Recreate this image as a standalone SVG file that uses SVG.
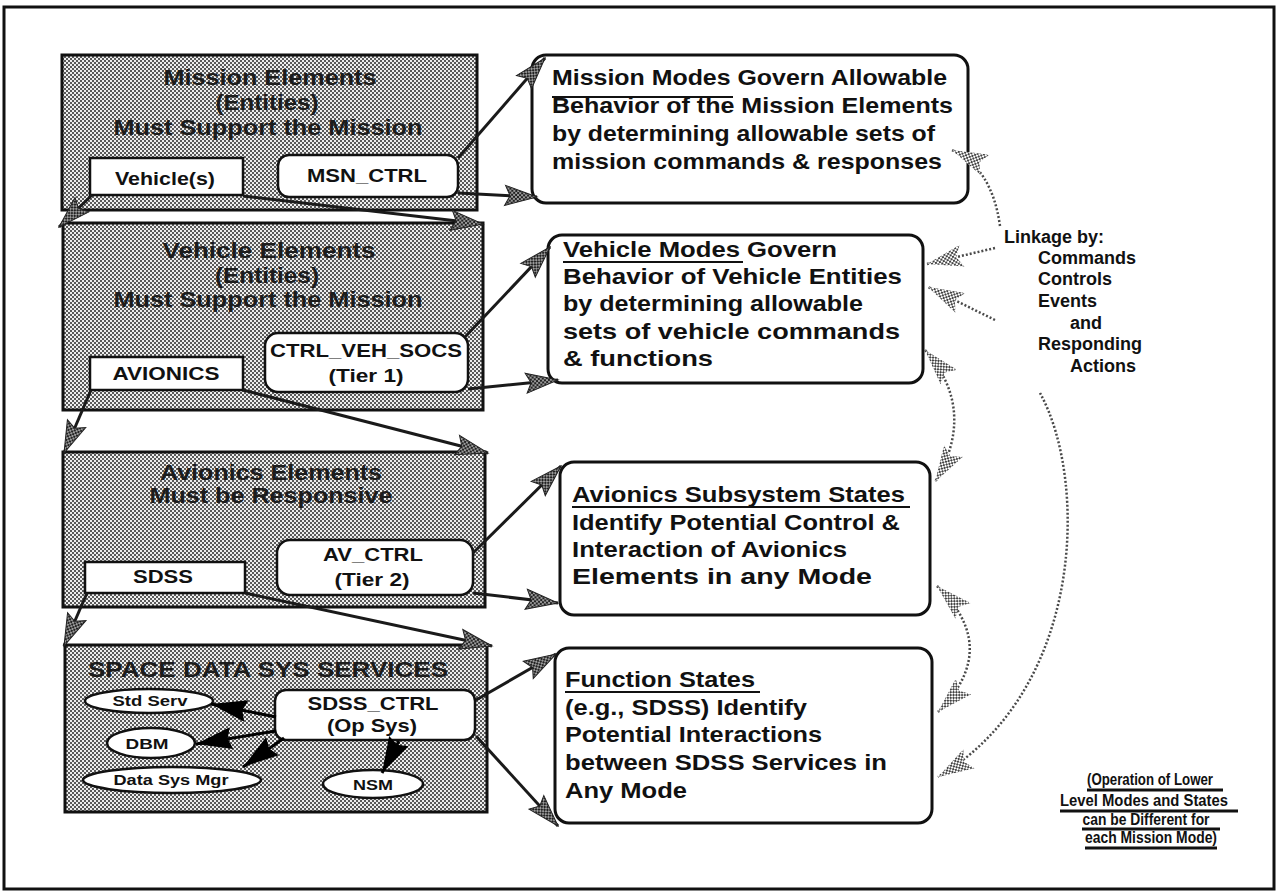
<svg xmlns="http://www.w3.org/2000/svg" width="1278" height="892" viewBox="0 0 1278 892">
  <defs>
    <style>
      text { font-family: "Liberation Sans", Arial, Helvetica, sans-serif; font-weight: bold; fill: #111; }
      .grp { fill: url(#dots); stroke: #111; stroke-width: 3; }
      .box { fill: #fff; stroke: #111; stroke-width: 2.5; }
      .mode { fill: #fff; stroke: #111; stroke-width: 3; }
      .ell { fill: #fff; stroke: #111; stroke-width: 2.5; }
      .ttl { font-size: 22px; fill: #1c1c1c; }
      .lbl { font-size: 18px; }
      .sm { font-size: 15px; }
      .body { font-size: 22px; }
      .link { font-size: 18px; }
      .note { font-size: 17px; }
      .ul { stroke: #111; stroke-width: 2; }
      .nul { stroke: #111; stroke-width: 3; }
      .wire { fill: none; stroke: #1a1a1a; stroke-width: 3; marker-end: url(#ah); }
      .blk { fill: none; stroke: #000; stroke-width: 3; marker-end: url(#bh); }
      .dot { fill: none; stroke: #4a4a4a; stroke-width: 2.5; stroke-dasharray: 2 2; }
    </style>
    <!-- dithered fills -->
    <pattern id="dots" width="4" height="4" patternUnits="userSpaceOnUse">
      <rect width="4" height="4" fill="#eeeeee"/>
      <rect width="2" height="2" fill="#5a5a5a"/>
      <rect x="2" y="2" width="2" height="2" fill="#5a5a5a"/>
    </pattern>
    <pattern id="dotsDark" width="4" height="4" patternUnits="userSpaceOnUse">
      <rect width="4" height="4" fill="#9a9a9a"/>
      <rect width="2" height="2" fill="#222"/>
      <rect x="2" y="2" width="2" height="2" fill="#222"/>
    </pattern>
    <pattern id="dotsLight" width="4" height="4" patternUnits="userSpaceOnUse">
      <rect width="4" height="4" fill="#fff"/>
      <rect width="2" height="2" fill="#444"/>
      <rect x="2" y="2" width="2" height="2" fill="#444"/>
    </pattern>
    <!-- arrowheads -->
    <marker id="ah" markerUnits="userSpaceOnUse" markerWidth="36" markerHeight="26" viewBox="-2 -13 36 26" refX="32" refY="0" orient="auto">
      <path d="M0,-10 L32,0 L0,10 L5,0 z" fill="url(#dotsDark)" stroke="#222" stroke-width="1"/>
    </marker>
    <marker id="bh" markerUnits="userSpaceOnUse" markerWidth="40" markerHeight="26" viewBox="-2 -13 40 26" refX="36" refY="0" orient="auto">
      <path d="M0,-11 L36,0 L0,11 L4,0 z" fill="#000"/>
    </marker>
    <marker id="gh" markerUnits="userSpaceOnUse" markerWidth="40" markerHeight="28" viewBox="-2 -14 40 28" refX="36" refY="0" orient="auto-start-reverse">
      <path d="M0,-11 L36,0 L0,11 L6,0 z" fill="url(#dotsLight)"/>
    </marker>
  </defs>

  <rect width="1278" height="892" fill="#fff"/>
  <!-- page frame -->
  <rect x="4" y="7" width="1270" height="882" fill="none" stroke="#111" stroke-width="3"/>

  <!-- left column: element groups -->
  <g id="mission-elements">
    <rect class="grp" x="62" y="55" width="415" height="155"/>
    <text class="ttl" x="270" y="85" text-anchor="middle" textLength="213" lengthAdjust="spacingAndGlyphs">Mission Elements</text>
    <text class="ttl" x="267" y="110" text-anchor="middle" textLength="103" lengthAdjust="spacingAndGlyphs">(Entities)</text>
    <text class="ttl" x="268" y="135" text-anchor="middle" textLength="309" lengthAdjust="spacingAndGlyphs">Must Support the Mission</text>
  </g>
  <g id="vehicles">
    <rect class="box" x="90" y="158" width="153" height="37"/>
    <text class="lbl" x="165" y="185" text-anchor="middle" textLength="100" lengthAdjust="spacingAndGlyphs">Vehicle(s)</text>
  </g>
  <g id="msn-ctrl">
    <rect class="box" x="278" y="155" width="180" height="42" rx="11" stroke-width="3"/>
    <text class="lbl" x="367" y="182" text-anchor="middle" textLength="120" lengthAdjust="spacingAndGlyphs">MSN_CTRL</text>
  </g>

  <g id="vehicle-elements">
    <rect class="grp" x="63" y="223" width="420" height="187"/>
    <text class="ttl" x="269" y="258" text-anchor="middle" textLength="213" lengthAdjust="spacingAndGlyphs">Vehicle Elements</text>
    <text class="ttl" x="267" y="283" text-anchor="middle" textLength="104" lengthAdjust="spacingAndGlyphs">(Entities)</text>
    <text class="ttl" x="268" y="307" text-anchor="middle" textLength="309" lengthAdjust="spacingAndGlyphs">Must Support the Mission</text>
  </g>
  <g id="avionics">
    <rect class="box" x="90" y="357" width="153" height="33"/>
    <text class="lbl" x="166" y="380" text-anchor="middle" textLength="107" lengthAdjust="spacingAndGlyphs">AVIONICS</text>
  </g>
  <g id="ctrl-veh-socs">
    <rect class="box" x="265" y="333" width="203" height="59" rx="13" stroke-width="3"/>
    <text class="lbl" x="366" y="357" text-anchor="middle" textLength="192" lengthAdjust="spacingAndGlyphs">CTRL_VEH_SOCS</text>
    <text class="lbl" x="366" y="382" text-anchor="middle" textLength="75" lengthAdjust="spacingAndGlyphs">(Tier 1)</text>
  </g>

  <g id="avionics-elements">
    <rect class="grp" x="63" y="452" width="422" height="155"/>
    <text class="ttl" x="271" y="480" text-anchor="middle" textLength="222" lengthAdjust="spacingAndGlyphs">Avionics Elements</text>
    <text class="ttl" x="271" y="503" text-anchor="middle" textLength="243" lengthAdjust="spacingAndGlyphs">Must be Responsive</text>
  </g>
  <g id="sdss">
    <rect class="box" x="85" y="562" width="160" height="31"/>
    <text class="lbl" x="163" y="583" text-anchor="middle" textLength="60" lengthAdjust="spacingAndGlyphs">SDSS</text>
  </g>
  <g id="av-ctrl">
    <rect class="box" x="277" y="540" width="196" height="55" rx="13" stroke-width="3"/>
    <text class="lbl" x="373" y="561" text-anchor="middle" textLength="100" lengthAdjust="spacingAndGlyphs">AV_CTRL</text>
    <text class="lbl" x="372" y="586" text-anchor="middle" textLength="75" lengthAdjust="spacingAndGlyphs">(Tier 2)</text>
  </g>

  <g id="space-data-sys-services">
    <rect class="grp" x="65" y="645" width="422" height="167"/>
    <text class="ttl" x="268" y="677" text-anchor="middle" textLength="360" lengthAdjust="spacingAndGlyphs">SPACE DATA SYS SERVICES</text>
  </g>
  <g id="sdss-ctrl">
    <rect class="box" x="275" y="690" width="200" height="50" rx="11" stroke-width="3"/>
    <text class="lbl" x="373" y="710" text-anchor="middle" textLength="131" lengthAdjust="spacingAndGlyphs">SDSS_CTRL</text>
    <text class="lbl" x="372" y="732" text-anchor="middle" textLength="90" lengthAdjust="spacingAndGlyphs">(Op Sys)</text>
  </g>
  <g id="std-serv">
    <ellipse class="ell" cx="149" cy="701" rx="64" ry="12"/>
    <text class="sm" x="150" y="706" text-anchor="middle" textLength="75" lengthAdjust="spacingAndGlyphs">Std Serv</text>
  </g>
  <g id="dbm">
    <ellipse class="ell" cx="151" cy="743" rx="44" ry="15"/>
    <text class="sm" x="147" y="749" text-anchor="middle" textLength="43" lengthAdjust="spacingAndGlyphs">DBM</text>
  </g>
  <g id="data-sys-mgr">
    <ellipse class="ell" cx="172" cy="780" rx="89" ry="13"/>
    <text class="sm" x="171" y="785" text-anchor="middle" textLength="115" lengthAdjust="spacingAndGlyphs">Data Sys Mgr</text>
  </g>
  <g id="nsm">
    <ellipse class="ell" cx="373" cy="784" rx="50" ry="14"/>
    <text class="sm" x="373" y="790" text-anchor="middle" textLength="40" lengthAdjust="spacingAndGlyphs">NSM</text>
  </g>

  <!-- right column: modes and states -->
  <g id="mission-modes">
    <rect class="mode" x="532" y="55" width="436" height="148" rx="14"/>
    <text class="body" x="552" y="85" textLength="395" lengthAdjust="spacingAndGlyphs">Mission Modes Govern Allowable</text>
    <line class="ul" x1="552" y1="97" x2="733" y2="97"/>
    <text class="body" x="552" y="113" textLength="401" lengthAdjust="spacingAndGlyphs">Behavior of the Mission Elements</text>
    <text class="body" x="552" y="141" textLength="383" lengthAdjust="spacingAndGlyphs">by determining allowable sets of</text>
    <text class="body" x="552" y="169" textLength="390" lengthAdjust="spacingAndGlyphs">mission commands &amp; responses</text>
  </g>
  <g id="vehicle-modes">
    <rect class="mode" x="548" y="235" width="375" height="148" rx="14"/>
    <text class="body" x="563" y="257" textLength="274" lengthAdjust="spacingAndGlyphs">Vehicle Modes Govern</text>
    <line class="ul" x1="563" y1="262" x2="743" y2="262"/>
    <text class="body" x="563" y="284" textLength="339" lengthAdjust="spacingAndGlyphs">Behavior of Vehicle Entities</text>
    <text class="body" x="563" y="311" textLength="300" lengthAdjust="spacingAndGlyphs">by determining allowable</text>
    <text class="body" x="563" y="339" textLength="337" lengthAdjust="spacingAndGlyphs">sets of vehicle commands</text>
    <text class="body" x="563" y="366" textLength="150" lengthAdjust="spacingAndGlyphs">&amp; functions</text>
  </g>
  <g id="avionics-states">
    <rect class="mode" x="560" y="462" width="370" height="153" rx="14"/>
    <text class="body" x="572" y="502" textLength="333" lengthAdjust="spacingAndGlyphs">Avionics Subsystem States</text>
    <line class="ul" x1="572" y1="507" x2="910" y2="507"/>
    <text class="body" x="572" y="530" textLength="328" lengthAdjust="spacingAndGlyphs">Identify Potential Control &amp;</text>
    <text class="body" x="572" y="557" textLength="275" lengthAdjust="spacingAndGlyphs">Interaction of Avionics</text>
    <text class="body" x="572" y="584" textLength="300" lengthAdjust="spacingAndGlyphs">Elements in any Mode</text>
  </g>
  <g id="function-states">
    <rect class="mode" x="555" y="648" width="377" height="175" rx="14"/>
    <text class="body" x="565" y="687" textLength="190" lengthAdjust="spacingAndGlyphs">Function States</text>
    <line class="ul" x1="565" y1="692" x2="760" y2="692"/>
    <text class="body" x="565" y="715" textLength="242" lengthAdjust="spacingAndGlyphs">(e.g., SDSS) Identify</text>
    <text class="body" x="565" y="742" textLength="257" lengthAdjust="spacingAndGlyphs">Potential Interactions</text>
    <text class="body" x="565" y="770" textLength="322" lengthAdjust="spacingAndGlyphs">between SDSS Services in</text>
    <text class="body" x="565" y="798" textLength="122" lengthAdjust="spacingAndGlyphs">Any Mode</text>
  </g>

  <!-- linkage legend -->
  <g id="linkage">
    <text class="link" x="1004" y="243">Linkage by:</text>
    <text class="link" x="1038" y="264">Commands</text>
    <text class="link" x="1038" y="285">Controls</text>
    <text class="link" x="1038" y="307">Events</text>
    <text class="link" x="1070" y="329">and</text>
    <text class="link" x="1038" y="350">Responding</text>
    <text class="link" x="1070" y="372">Actions</text>
  </g>

  <!-- footnote -->
  <g id="footnote">
    <text class="note" x="1150" y="785" text-anchor="middle" textLength="126" lengthAdjust="spacingAndGlyphs">(Operation of Lower</text>
    <line class="nul" x1="1087" y1="790" x2="1223" y2="790"/>
    <text class="note" x="1144" y="806" text-anchor="middle" textLength="168" lengthAdjust="spacingAndGlyphs">Level Modes and States</text>
    <line class="nul" x1="1060" y1="811" x2="1238" y2="811"/>
    <text class="note" x="1146" y="825" text-anchor="middle" textLength="127" lengthAdjust="spacingAndGlyphs">can be Different for</text>
    <line class="nul" x1="1082" y1="829" x2="1220" y2="829"/>
    <text class="note" x="1151" y="843" text-anchor="middle" textLength="132" lengthAdjust="spacingAndGlyphs">each Mission Mode)</text>
    <line class="nul" x1="1085" y1="848" x2="1217" y2="848"/>
  </g>

  <!-- connectors -->
  <g id="connectors">
    <!-- controller to mode boxes -->
    <line class="wire" x1="458" y1="158" x2="545" y2="58"/>
    <line class="wire" x1="458" y1="193" x2="537" y2="197"/>
    <line class="wire" x1="465" y1="337" x2="550" y2="247"/>
    <line class="wire" x1="468" y1="389" x2="558" y2="380"/>
    <line class="wire" x1="473" y1="553" x2="561" y2="466"/>
    <line class="wire" x1="473" y1="593" x2="558" y2="603"/>
    <line class="wire" x1="476" y1="700" x2="556" y2="654"/>
    <line class="wire" x1="476" y1="736" x2="558" y2="826"/>
    <!-- element boxes to next tier -->
    <line class="wire" x1="92" y1="195" x2="59" y2="227"/>
    <line class="wire" x1="243" y1="196" x2="483" y2="224"/>
    <line class="wire" x1="91" y1="390" x2="64" y2="453"/>
    <line class="wire" x1="243" y1="390" x2="488" y2="453"/>
    <line class="wire" x1="87" y1="593" x2="64" y2="646"/>
    <line class="wire" x1="245" y1="593" x2="492" y2="646"/>
    <!-- SDSS_CTRL to services -->
    <line class="blk" x1="276" y1="717" x2="211" y2="704"/>
    <line class="blk" x1="276" y1="731" x2="196" y2="744"/>
    <line class="blk" x1="284" y1="738" x2="243" y2="767"/>
    <line class="blk" x1="399" y1="741" x2="382" y2="773"/>
    <!-- linkage paths -->
    <path class="dot" d="M1000,226 Q992,168 952,150" marker-end="url(#gh)"/>
    <path class="dot" d="M995,248 L927,264" marker-end="url(#gh)"/>
    <path class="dot" d="M995,320 L928,287" marker-end="url(#gh)"/>
    <path class="dot" d="M925,350 Q978,410 935,482" marker-start="url(#gh)" marker-end="url(#gh)"/>
    <path class="dot" d="M937,586 Q1002,648 938,712" marker-start="url(#gh)" marker-end="url(#gh)"/>
    <path class="dot" d="M1040,393 C1088,480 1085,690 938,777" marker-end="url(#gh)"/>
  </g>
</svg>
